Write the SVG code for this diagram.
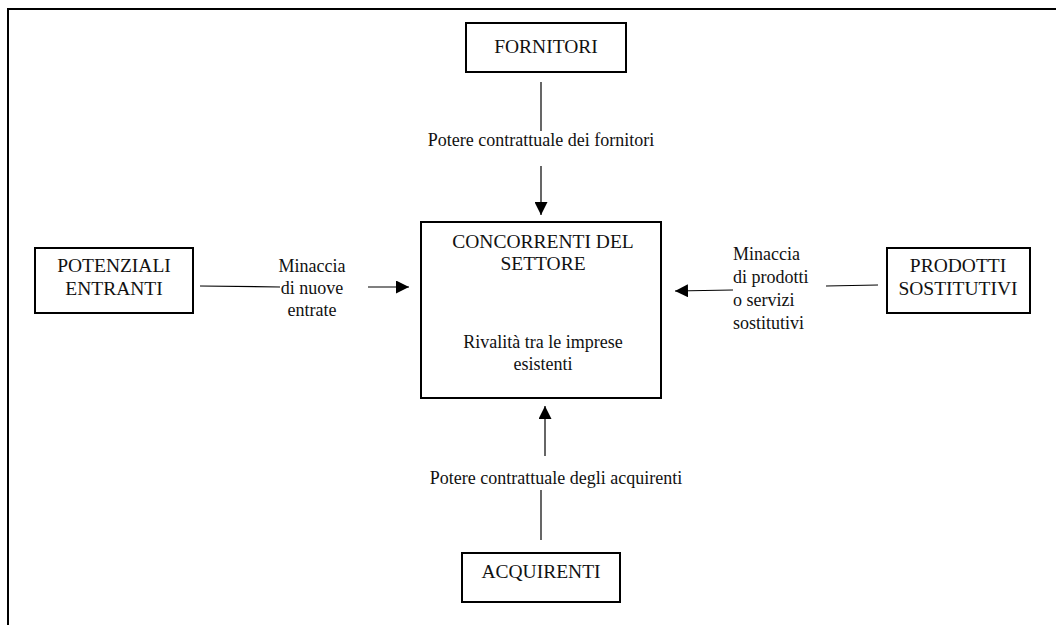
<svg xmlns="http://www.w3.org/2000/svg" width="1056" height="625" viewBox="0 0 1056 625" font-family="Liberation Serif, Times New Roman, DejaVu Serif, serif" font-size="18">
<defs>
<style>
text{font-family:'Liberation Serif','DejaVu Serif',serif;font-size:18px;fill:#111}
.cap{font-size:19.5px}
.box{fill:#fff;stroke:#000;stroke-width:2}
.ln{stroke:#000;stroke-width:1.2;fill:none}
.c{text-anchor:middle}
</style>
<marker id="ah2" viewBox="0 0 10 10" refX="10" refY="5" markerWidth="13" markerHeight="13" markerUnits="userSpaceOnUse" orient="auto">
<path d="M0,0 L10,5 L0,10 Z" fill="#000"/>
</marker>
</defs>
<rect width="1056" height="625" fill="#fff"/>
<path d="M8,625 L8,9 L1056,9" fill="none" stroke="#000" stroke-width="2"/>

<g id="connectors">
<line class="ln" x1="541" y1="82" x2="541" y2="131"/>
<line class="ln" x1="541" y1="166" x2="541" y2="215" marker-end="url(#ah2)"/>
<line class="ln" x1="200" y1="286" x2="280" y2="287"/>
<line class="ln" x1="368" y1="287" x2="409" y2="287" marker-end="url(#ah2)"/>
<line class="ln" x1="878" y1="285" x2="826" y2="286"/>
<line class="ln" x1="733" y1="290" x2="675" y2="291" marker-end="url(#ah2)"/>
<line x1="545" y1="456" x2="545" y2="406" stroke="#666" stroke-width="2" marker-end="url(#ah2)"/>
<line class="ln" x1="541" y1="490" x2="541" y2="540"/>
<text class="c" x="541" y="146">Potere contrattuale dei fornitori</text>
<text class="c" x="312" y="272">Minaccia</text>
<text class="c" x="312" y="294">di nuove</text>
<text class="c" x="312" y="316">entrate</text>
<text x="733" y="260">Minaccia</text>
<text x="733" y="283">di prodotti</text>
<text x="733" y="306">o servizi</text>
<text x="733" y="329">sostitutivi</text>
<text class="c" x="556" y="484">Potere contrattuale degli acquirenti</text>
</g>

<g id="fornitori">
<rect class="box" x="466" y="23" width="160" height="49"/>
<text class="c cap" x="546" y="53">FORNITORI</text>
</g>

<g id="concorrenti">
<rect class="box" x="421" y="222" width="240" height="176"/>
<text class="c cap" x="543" y="248">CONCORRENTI DEL</text>
<text class="c cap" x="543" y="270">SETTORE</text>
<text class="c" x="543" y="348">Rivalità tra le imprese</text>
<text class="c" x="543" y="370">esistenti</text>
</g>

<g id="potenziali">
<rect class="box" x="35" y="248" width="158" height="65"/>
<text class="c cap" x="114" y="272">POTENZIALI</text>
<text class="c cap" x="114" y="295">ENTRANTI</text>
</g>

<g id="prodotti">
<rect class="box" x="887" y="248" width="143" height="65"/>
<text class="c cap" x="958" y="272">PRODOTTI</text>
<text class="c cap" x="958" y="295">SOSTITUTIVI</text>
</g>

<g id="acquirenti">
<rect class="box" x="462" y="553" width="158" height="49"/>
<text class="c cap" x="541" y="578">ACQUIRENTI</text>
</g>
</svg>
